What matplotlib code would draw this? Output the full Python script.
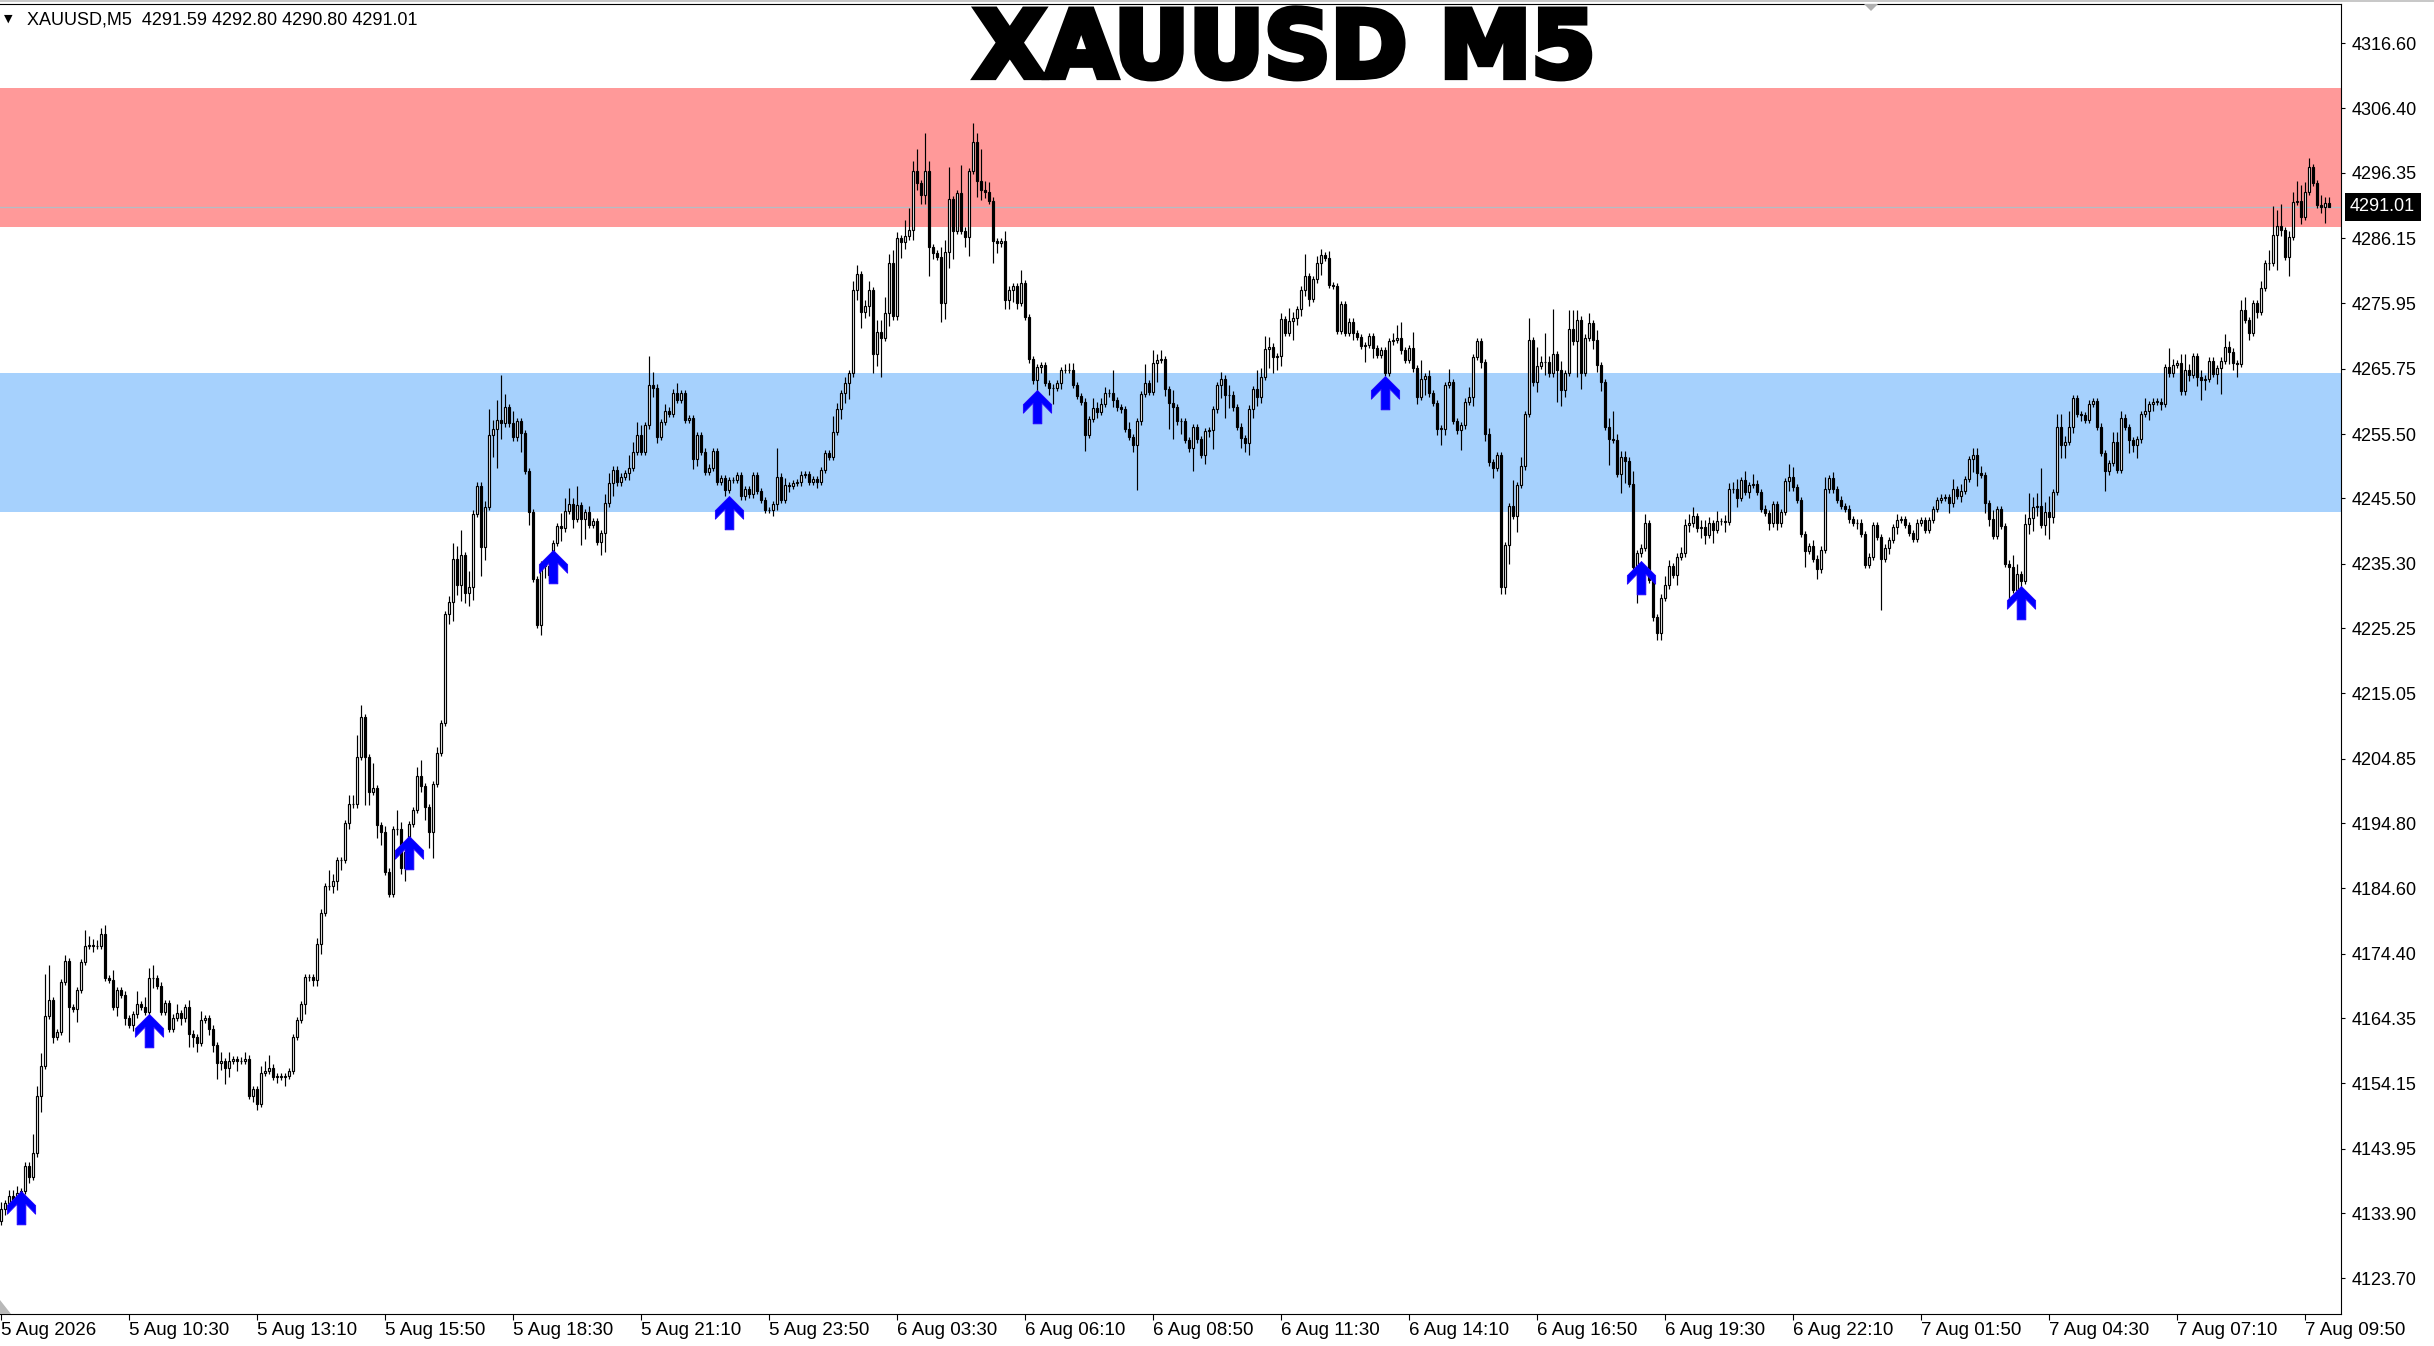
import numpy as np
import matplotlib
matplotlib.use('Agg')
import matplotlib.pyplot as plt
import matplotlib.transforms as mtransforms
import matplotlib.patheffects as pe
from matplotlib.path import Path
from matplotlib.patches import Polygon, Rectangle

# XAUUSD M5 closes left to right, one block per zoomed strip
close_a = [4134.6, 4135.4, 4136.5, 4135.7, 4137.1, 4137.3, 4141.3, 4139.6, 4143.2, 4152.2,
           4156.9, 4164.7, 4167.1, 4161.4, 4162.2, 4170.0, 4173.2, 4166.1, 4165.8, 4168.7,
           4173.1, 4175.6, 4175.7, 4175.6, 4175.6, 4177.4, 4170.6, 4170.3, 4166.1, 4168.7,
           4168.0, 4164.3, 4163.3, 4164.9, 4166.5, 4166.1, 4165.3, 4170.6, 4170.6, 4169.4,
           4165.3, 4166.7, 4162.7, 4164.4, 4165.1, 4164.3, 4166.1, 4161.9, 4161.4, 4160.5,
           4164.0, 4164.3, 4162.7, 4160.1, 4157.3, 4157.6, 4156.6, 4157.6, 4157.9, 4157.6,
           4157.7, 4158.0, 4152.2, 4153.3, 4151.0, 4155.8, 4156.1, 4156.6, 4155.2, 4155.2,
           4155.2, 4155.3, 4156.1, 4161.4, 4164.0, 4166.5, 4170.7, 4170.7, 4170.3, 4175.9,
           4180.8, 4184.9, 4184.9, 4185.8, 4189.0, 4189.0, 4194.8, 4197.7, 4197.7, 4205.1,
           4211.3, 4205.1, 4199.6, 4200.2, 4194.5, 4193.4, 4187.2, 4183.7]
close_b = [4193.9, 4193.9, 4187.8, 4190.3, 4194.6, 4196.8, 4202.1, 4200.6, 4197.3, 4193.4,
           4200.9, 4205.7, 4210.4, 4227.4, 4229.3, 4236.1, 4231.9, 4236.6, 4230.7, 4231.6,
           4243.1, 4247.5, 4237.9, 4244.1, 4255.4, 4256.3, 4257.8, 4257.2, 4259.8, 4257.2,
           4255.0, 4257.5, 4255.7, 4249.8, 4243.3, 4232.9, 4225.7, 4235.2, 4235.0, 4233.6,
           4238.5, 4241.2, 4240.8, 4243.5, 4244.6, 4242.3, 4244.4, 4242.2, 4243.3, 4241.3,
           4241.9, 4238.7, 4240.1, 4244.7, 4247.9, 4250.0, 4248.0, 4248.9, 4249.4, 4250.3,
           4252.8, 4255.4, 4252.8, 4256.9, 4263.2, 4262.8, 4255.1, 4257.4, 4259.2, 4258.7,
           4262.0, 4260.9, 4261.9, 4257.8, 4258.0, 4251.6, 4255.4, 4252.8, 4249.6, 4250.3,
           4252.9, 4248.1, 4248.6, 4246.8, 4248.4, 4248.4, 4249.1, 4245.8, 4246.9, 4246.1,
           4249.1, 4246.6, 4245.2, 4243.7, 4243.7, 4244.6, 4248.9]
close_c = [4245.2, 4247.6, 4247.5, 4247.9, 4248.0, 4249.2, 4249.3, 4248.1, 4248.5, 4248.1,
           4249.9, 4252.5, 4252.0, 4255.9, 4259.4, 4261.9, 4263.5, 4265.0, 4278.0, 4280.5,
           4274.6, 4275.5, 4278.0, 4268.1, 4271.4, 4270.5, 4274.4, 4282.2, 4273.9, 4286.1,
           4285.5, 4286.4, 4287.4, 4296.6, 4294.7, 4292.9, 4296.6, 4284.7, 4283.8, 4283.2,
           4276.0, 4283.9, 4292.2, 4287.3, 4293.1, 4287.3, 4286.3, 4296.6, 4301.1, 4295.0,
           4293.6, 4293.4, 4292.0, 4285.7, 4285.3, 4285.7, 4276.5, 4278.1, 4278.6, 4276.0,
           4279.1, 4273.8, 4267.2, 4263.9, 4266.0, 4266.3, 4263.5, 4262.7, 4262.8, 4263.5,
           4265.5, 4265.5, 4265.6, 4263.2, 4261.5, 4260.6, 4255.4, 4257.9, 4259.6, 4259.0,
           4260.2, 4261.9, 4262.0, 4260.8, 4259.7, 4259.4, 4256.4, 4255.1, 4253.8, 4257.5,
           4261.8, 4263.5, 4262.1, 4266.6, 4267.1, 4267.2, 4262.5, 4260.4]
close_d = [4259.8, 4257.5, 4257.5, 4254.6, 4253.3, 4256.6, 4254.7, 4252.3, 4256.0, 4256.2,
           4259.4, 4263.2, 4264.2, 4261.6, 4261.7, 4259.7, 4256.7, 4254.9, 4254.2, 4259.5,
           4262.5, 4261.4, 4264.4, 4268.8, 4269.2, 4267.6, 4267.7, 4273.5, 4271.3, 4273.2,
           4273.6, 4275.0, 4278.1, 4280.2, 4276.6, 4279.7, 4282.3, 4283.5, 4283.1, 4278.8,
           4278.7, 4271.6, 4275.8, 4271.3, 4273.1, 4271.3, 4270.7, 4269.3, 4269.4, 4270.8,
           4268.9, 4267.9, 4268.7, 4265.1, 4270.0, 4270.3, 4270.6, 4268.6, 4267.1, 4268.9,
           4265.8, 4261.3, 4264.1, 4264.6, 4261.9, 4260.4, 4256.4, 4256.4, 4263.2, 4263.7,
           4257.6, 4256.1, 4256.9, 4260.6, 4261.4, 4267.6, 4270.1, 4266.8, 4255.5, 4251.1,
           4250.2, 4252.3, 4231.6, 4238.2, 4244.3, 4242.7, 4247.6, 4250.5, 4258.7, 4270.2,
           4263.6, 4266.2, 4266.8, 4266.8, 4265.0, 4268.0, 4265.5]
close_e = [4262.4, 4265.1, 4271.9, 4270.0, 4273.4, 4265.1, 4270.6, 4272.9, 4270.3, 4266.3,
           4263.7, 4256.6, 4254.7, 4254.6, 4249.3, 4251.9, 4251.4, 4247.7, 4234.7, 4236.9,
           4237.8, 4241.6, 4232.7, 4226.9, 4224.4, 4230.0, 4231.9, 4234.9, 4233.5, 4236.4,
           4236.9, 4241.3, 4241.6, 4242.7, 4240.8, 4241.1, 4239.8, 4241.6, 4240.6, 4242.0,
           4241.9, 4241.8, 4246.9, 4247.0, 4245.6, 4248.3, 4246.5, 4247.6, 4247.8, 4246.5,
           4243.9, 4243.2, 4241.6, 4244.6, 4241.6, 4243.4, 4248.2, 4248.9, 4247.2, 4245.2,
           4239.9, 4237.3, 4238.0, 4236.1, 4234.4, 4237.5, 4246.9, 4248.6, 4246.9, 4245.3,
           4244.3, 4243.9, 4242.2, 4241.7, 4241.7, 4239.9, 4235.1, 4236.4, 4241.3, 4239.5,
           4236.1, 4237.8, 4239.0, 4241.0, 4242.1, 4242.2, 4241.3, 4240.1, 4239.2, 4241.7,
           4242.1, 4240.6, 4242.1, 4243.8, 4245.2, 4245.6, 4245.7, 4244.7]
close_f = [4247.0, 4245.9, 4246.7, 4248.5, 4251.6, 4252.3, 4249.5, 4249.1, 4244.7, 4242.2,
           4239.6, 4243.8, 4241.2, 4235.3, 4234.7, 4231.2, 4233.7, 4232.6, 4241.5, 4242.4,
           4244.2, 4244.3, 4241.3, 4243.4, 4242.6, 4246.5, 4256.7, 4253.8, 4254.3, 4256.7,
           4261.2, 4258.7, 4258.5, 4257.8, 4260.3, 4260.7, 4256.7, 4252.6, 4249.7, 4251.0,
           4254.3, 4250.0, 4258.1, 4256.6, 4254.6, 4253.8, 4254.7, 4258.7, 4259.2, 4260.2,
           4260.6, 4260.6, 4260.3, 4266.0, 4265.0, 4266.3, 4266.6, 4262.2, 4265.5, 4264.8,
           4267.7, 4264.5, 4263.9, 4264.2, 4267.0, 4264.9, 4265.8, 4267.0, 4269.1, 4268.4,
           4266.6, 4266.5, 4274.9, 4273.3, 4271.3, 4276.0, 4274.6, 4278.4, 4282.2, 4282.2,
           4286.6, 4288.0, 4287.4, 4283.2, 4286.3, 4291.8, 4292.0, 4289.4, 4293.4, 4297.2,
           4294.7, 4291.3, 4291.0, 4291.59, 4291.01]
first_open = 4132.6

# wick lengths, one base-36 digit per candle, in steps of 0.5
up_wicks = ("2122211163" "4db1112111" "1532223131" "1111413341" "1111311211"
            "3111131311" "1211123411" "1111111112" "1152111337" "41181121"
            "1621113511" "1211254815" "1112836e41" "4111111112" "1144526112"
            "1113311114" "3431941121" "1311111111" "1111111111" "1111119"
            "1211111111" "1115212133" "1231445342" "157371c311" "34a1191163"
            "a331113111" "4111111111" "1222111132" "2217111211" "16142311"
            "4111111111" "1121311111" "1634311214" "2117112212" "1111111111"
            "1111124511" "5161211114" "1111311112" "1111181317" "16292e1"
            "3166311313" "1139222141" "1311113211" "2233122213" "1222313131"
            "1111111431" "1112114121" "1111111111" "1111211111" "11111111"
            "3121122211" "3111143138" "34c3514425" "1111111111" "3321111141"
            "1111621352" "1121111142" "1134111214" "9571236533" "11322")
dn_wicks = ("1211121211" "5112111b14" "1112111113" "1212111131" "1111121433"
            "1122525313" "1112211112" "1311113122" "3112331211" "1f414411"
            "1224111245" "8111363534" "419417c511" "1161411342" "1141131861"
            "1146141112" "1111132111" "1111132111" "1112111111" "1111122"
            "1121111112" "1111133513" "52364c1411" "5213233921" "6559113615"
            "3217313342" "1111421251" "2111115112" "111211112e" "11116128"
            "a141171132" "6147411334" "3321654311" "6222211411" "1111121151"
            "3111111111" "1215112521" "1161131221" "3122615111" "131411a"
            "5211b51132" "318116711b" "1111221113" "1121133141" "1311311211"
            "1121211311" "1511311111" "1111211111" "g121211111" "11111113"
            "1121144132" "1111b11213" "4313721441" "2121111161" "1111424113"
            "2121111112" "1363113814" "2411212112" "1b21611211" "11250")

time_labels = ["5 Aug 2026", "5 Aug 10:30", "5 Aug 13:10", "5 Aug 15:50", "5 Aug 18:30",
               "5 Aug 21:10", "5 Aug 23:50", "6 Aug 03:30", "6 Aug 06:10", "6 Aug 08:50",
               "6 Aug 11:30", "6 Aug 14:10", "6 Aug 16:50", "6 Aug 19:30", "6 Aug 22:10",
               "7 Aug 01:50", "7 Aug 04:30", "7 Aug 07:10", "7 Aug 09:50"]
price_ticks = [4316.60, 4306.40, 4296.35, 4286.15, 4275.95, 4265.75, 4255.50, 4245.50,
               4235.30, 4225.25, 4215.05, 4204.85, 4194.80, 4184.60, 4174.40, 4164.35,
               4154.15, 4143.95, 4133.90, 4123.70]
last_price = 4291.01
header = "XAUUSD,M5  4291.59 4292.80 4290.80 4291.01"

supply_zone = (4287.9, 4309.6)
demand_zone = (4243.4, 4265.1)

arrow_bars = [5, 37, 102, 138, 182, 259, 346, 410, 505]
arrow_tips = [4137.3, 4165.0, 4192.8, 4237.4, 4245.9, 4262.4, 4264.6, 4235.7, 4231.8]


closes = np.array(close_a + close_b + close_c + close_d + close_e + close_f)
opens = np.r_[first_open, closes[:-1]]
up = np.array([int(ch, 36) for ch in up_wicks]) * 0.5
dn = np.array([int(ch, 36) for ch in dn_wicks]) * 0.5
n = min(len(closes), len(up), len(dn))
closes, opens, up, dn = closes[:n], opens[:n], up[:n], dn[:n]
highs = np.maximum(opens, closes) + up
lows = np.minimum(opens, closes) - dn
idx = np.arange(n)

W, H = 2434, 1346
plt.rcParams['font.family'] = ['Liberation Sans', 'DejaVu Sans']
fig = plt.figure(figsize=(W / 100, H / 100), dpi=100)
fig.patch.set_facecolor('white')
ax = fig.add_axes([0, (H - 1314) / H, 2341 / W, 1310 / H])

ax.axhspan(*supply_zone, color='#FF9999', lw=0, zorder=0)
ax.axhspan(*demand_zone, color='#A6D1FD', lw=0, zorder=0)
ax.axhline(last_price, color='#B4BCC4', lw=0.9, zorder=1)

bull = closes >= opens
ax.vlines(idx, lows, highs, color='black', lw=0.85, zorder=2)
body = np.maximum(np.abs(closes - opens), 0.02)
ax.bar(idx, body, bottom=np.minimum(opens, closes), width=0.5,
       color=np.where(bull, 'white', 'black'), edgecolor='black', linewidth=0.85, zorder=3)

# up arrow marker, tip at the anchor point
arrow = Path([(0, 0), (14, -14), (14, -22.5), (4.3, -12.5), (4.3, -33), (-4.3, -33),
              (-4.3, -12.5), (-14, -22.5), (-14, -14), (0, 0)])
ax.plot(arrow_bars, arrow_tips, ls='none', marker=arrow, ms=48, color='#0000FF',
        mew=0.6, mec='#2200FF', zorder=4)

ax.set_xlim(-0.25, 585)
ax.set_ylim(4118.13, 4322.69)

ax.set_xticks(range(0, 32 * len(time_labels), 32), labels=time_labels, ha='left')
ax.set_yticks(price_ticks, labels=[f"{p:.2f}" for p in price_ticks])
ax.yaxis.tick_right()
ax.tick_params(axis='y', direction='out', length=3, width=0.8, pad=5, labelsize=13)
ax.tick_params(axis='x', direction='out', length=4, width=0.8, pad=2, labelsize=13.5)
ax.spines['left'].set_visible(False)
for s in ['top', 'right', 'bottom']:
    ax.spines[s].set_linewidth(0.8)

trans = mtransforms.blended_transform_factory(ax.transAxes, ax.transData)
ax.text(1 + 9 / 2341, last_price, f"{last_price:.2f}", transform=trans, color='white',
        fontsize=13, va='center', ha='left', clip_on=False, zorder=10,
        bbox=dict(boxstyle='square,pad=0.3', fc='black', ec='none'))

# window bits
fig.add_artist(Rectangle((0, 1 - 2 / H), 1, 2 / H, transform=fig.transFigure,
                         fc='#C8C8C8', ec='none'))
fig.add_artist(Polygon([(1864 / W, 1 - 4 / H), (1878 / W, 1 - 4 / H), (1871 / W, 1 - 11 / H)],
                       closed=True, transform=fig.transFigure, fc='#B0B0B0', ec='none'))
fig.add_artist(Polygon([(0, 1 - 1300 / H), (0, 1 - 1314 / H), (11 / W, 1 - 1314 / H)],
                       closed=True, transform=fig.transFigure, fc='#B8B8B8', ec='none'))

fig.text(4 / W, 1 - 19 / H, "\u25bc", fontsize=8, va='center', ha='left', family='DejaVu Sans')
fig.text(27 / W, 1 - 20 / H, header, fontsize=13, va='center', ha='left')
fig.text(1285 / W, 1 - 77 / H, "XAUUSD M5", fontsize=66.5, fontweight='bold',
         family='DejaVu Sans', ha='center', va='baseline',
         path_effects=[pe.withStroke(linewidth=4.5, foreground='black', joinstyle='miter')])

fig.savefig('out.png', dpi=100)
